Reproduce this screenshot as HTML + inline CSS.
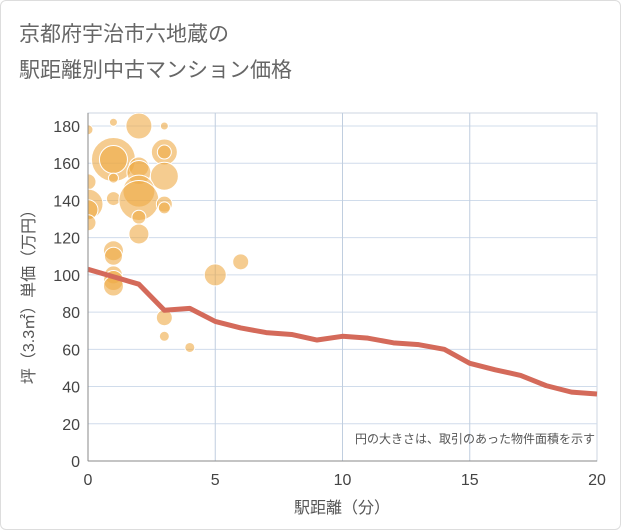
<!DOCTYPE html>
<html><head><meta charset="utf-8"><style>
body{margin:0;background:#fff;font-family:"Liberation Sans","Noto Sans CJK JP",sans-serif}
#wrap{position:relative;width:619px;height:528px;border:1px solid #ddd;border-radius:6px;overflow:hidden}
</style></head><body>
<div id="wrap">
<svg id="chart" width="619" height="528">
<defs><clipPath id="plotclip"><rect x="87" y="112" width="509" height="348"/></clipPath></defs>
<text x="18" y="40" font-size="21" fill="#666">京都府宇治市六地蔵の</text>
<text x="18" y="76" font-size="21" fill="#666">駅距離別中古マンション価格</text>
<g id="grid"></g><g id="bubbles" clip-path="url(#plotclip)"></g><g id="line"></g><g id="axes"></g>
<text x="594" y="442" font-size="12" fill="#555" text-anchor="end">円の大きさは、取引のあった物件面積を示す</text>
<text x="341" y="512" font-size="16" fill="#555" text-anchor="middle">駅距離（分）</text>
<text transform="translate(33,292) rotate(-90)" font-size="16" fill="#555" text-anchor="middle">坪（3.3㎡）単価（万円）</text>
</svg></div>
<script>
const xTicks=[0,5,10,15,20];
const yTicks=[0,20,40,60,80,100,120,140,160,180];
const lineX=[0,1,2,3,4,5,6,7,8,9,10,11,12,13,14,15,16,17,18,19,20];
const lineY=[103,99,95,81,82,75,71.5,69,68,65,67,66,63.5,62.5,60,52.5,49,46,40.5,37,36];
const bubX=[0,1,2,3,1,1,1,2,2,3,3,3,0,0,0,0,1,2,2,2,2,3,3,1,1,1,1,1,3,3,4,5,6];
const bubY=[178,182,180,180,162,162,152,158,155,166,166,153,150,138,135,128,141,145,140,131,122,138,136,113,110,100,97,94,77,67,61,100,107];
const bubR=[5,4,13,4,22,14,5,10,12,13,7,14,8,15,10,8,7,16,20,7,10,8,6,10,9,9,10,10,8,5,5,11,8];
const X0=87,X1=596,Y0=460,Y1=125;
const sx=v=>X0+(v-0)/20*(X1-X0);
const sy=v=>Y0-v/180*(Y0-Y1);
const NS="http://www.w3.org/2000/svg";
function mk(t,a,p){const e=document.createElementNS(NS,t);for(const k in a)e.setAttribute(k,a[k]);p.appendChild(e);return e;}
const grid=document.getElementById('grid'),axes=document.getElementById('axes');
mk('rect',{x:X0,y:112,width:X1-X0,height:Y0-112,fill:'none',stroke:'#ccd6e0'},grid);
yTicks.forEach(v=>{const l=mk('line',{x1:X0,x2:X1,y1:sy(v),y2:sy(v),stroke:'#d0dceb','stroke-width':1},grid);

const t=mk('text',{x:X0-8,y:sy(v)+6,'font-size':16,fill:'#444','text-anchor':'end'},axes);t.textContent=v;
});
xTicks.forEach(v=>{if(v>0&&v<20){const l=mk('line',{x1:sx(v),x2:sx(v),y1:112,y2:Y0,stroke:'#c0cedf'},grid);
}
const t=mk('text',{x:sx(v),y:Y0+24,'font-size':16,fill:'#444','text-anchor':'middle'},axes);t.textContent=v;
});
mk('line',{x1:X0,x2:X0,y1:112,y2:Y0,stroke:'#888'},axes);
mk('line',{x1:X0,x2:X1,y1:Y0,y2:Y0,stroke:'#888'},axes);
const bg=document.getElementById('bubbles');
bubX.forEach((x,i)=>{const c=mk('circle',{cx:sx(x),cy:sy(bubY[i]),r:bubR[i],fill:'rgba(238,170,70,0.6)',stroke:'#fff','stroke-width':1},bg);
});
const p=mk('polyline',{points:lineX.map((x,i)=>sx(x)+','+sy(lineY[i])).join(' '),fill:'none',stroke:'#d46a5a','stroke-width':5,'stroke-linejoin':'round'},document.getElementById('line'));

</script></body></html>
